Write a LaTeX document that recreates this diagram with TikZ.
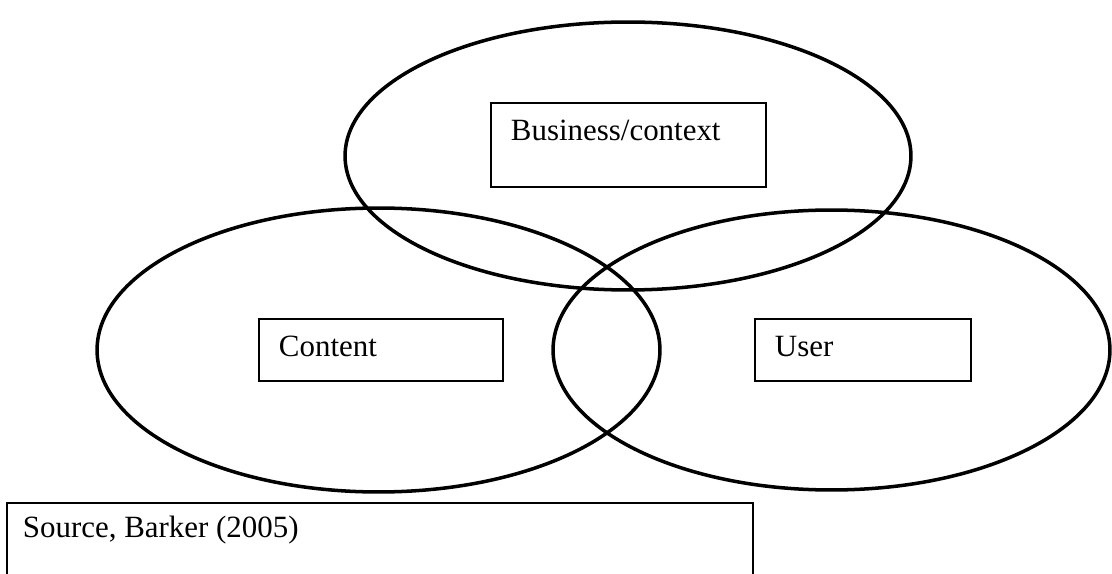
\documentclass[tikz,border=0pt]{standalone}
\usepackage{fontspec}
\setmainfont{Liberation Serif}
\usetikzlibrary{shapes.geometric}

\begin{document}
\begin{tikzpicture}[
    x=0.02cm,
    y=-0.02cm,
    font=\fontsize{17.6}{21}\selectfont,
    area/.style={
		ellipse,
		draw=black,
		line width=2pt,
		inner sep=0pt
	},
	box/.style={
		rectangle,
		draw=black,
		line width=1.1pt,
		anchor=north west,
		inner xsep=0.4cm,
		inner ysep=0.24cm,
		fill=white
	}
  ]

 \useasboundingbox (0,0) rectangle (1112,574);

% // The three areas
 \node [area, minimum width=11.32cm, minimum height=5.36cm] (business) at (628,156) {};
 \node [area, minimum width=11.26cm, minimum height=5.68cm] (content) at (378.5,350) {};
 \node [area, minimum width=11.14cm, minimum height=5.6cm] (user) at (831.5,350) {};

% // The labels
 \node [box] (businessbox) at (490,102)
 {\parbox[t][1.2cm][t]{4.7cm}{\strut Business/context}};
 \node [box] (contentbox) at (258,318)
 {\parbox[t][0.76cm][t]{4.08cm}{\strut Content}};
 \node [box] (userbox) at (754,318)
 {\parbox[t][0.76cm][t]{3.52cm}{\strut User}};

% // The source
 \node [box, inner xsep=0.32cm, inner ysep=0.18cm] (source) at (6,502)
 {\parbox[t][1.4cm][t]{14.28cm}{\strut Source, Barker (2005)}};

\end{tikzpicture}
\end{document}
